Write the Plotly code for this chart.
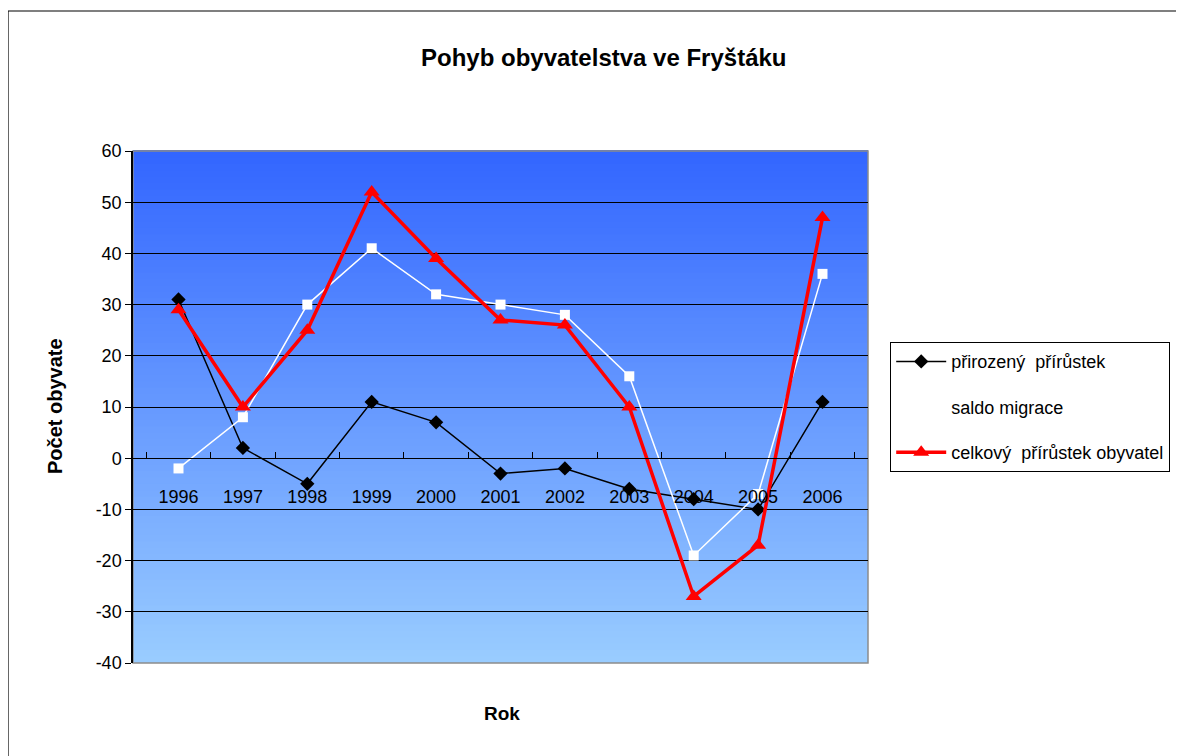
import plotly.graph_objects as go

# data
roky = ["1996", "1997", "1998", "1999", "2000", "2001", "2002", "2003", "2004", "2005", "2006"]
prirozeny = [31, 2, -5, 11, 7, -3, -2, -6, -8, -10, 11]
saldo = [-2, 8, 30, 41, 32, 30, 28, 16, -19, -7, 36]
celkovy = [29, 10, 25, 52, 39, 27, 26, 10, -27, -17, 47]
y_ticks = [-40, -30, -20, -10, 0, 10, 20, 30, 40, 50, 60]
y_tick_text = ["-40", "-30", "-20", "-10", "0", "10", "20", "30", "40", "50", "60"]

font_family = "Liberation Sans, Arial, sans-serif"

fig = go.Figure()

fig.add_trace(go.Scatter(
    x=roky, y=prirozeny, name="přirozený  přírůstek", legendgroup="a",
    mode="lines+markers",
    line=dict(color="black", width=1.5),
    marker=dict(symbol="diamond", size=11, color="black"),
))
fig.add_trace(go.Scatter(
    x=roky, y=saldo, name="saldo migrace", legendgroup="b",
    mode="lines+markers",
    line=dict(color="white", width=1.5),
    marker=dict(symbol="square", size=10, color="white"),
))
fig.add_trace(go.Scatter(
    x=roky, y=celkovy, name="celkový  přírůstek obyvatel", legendgroup="c",
    mode="lines+markers",
    line=dict(color="#ff0000", width=3.5),
    marker=dict(symbol="triangle-up", size=14, color="#ff0000"),
))

# gradient pozadí plochy grafu (nahoře tmavší modrá, dole světlejší)
n = 80
top = (51, 102, 255)
bottom = (153, 204, 255)
shapes = []
for i in range(n):
    t = i / (n - 1)
    c = tuple(round(bottom[k] + (top[k] - bottom[k]) * t) for k in range(3))
    shapes.append(dict(
        type="rect", xref="x domain", yref="y domain",
        x0=0, x1=1, y0=i / n, y1=(i + 1) / n + 0.002,
        fillcolor="rgb(%d,%d,%d)" % c, line=dict(width=0), layer="below",
    ))
# šedý rámeček plochy grafu
shapes.append(dict(type="rect", xref="x domain", yref="y domain", x0=0, x1=1, y0=0, y1=1,
                   line=dict(color="#8c8c8c", width=1.5), layer="below"))
# rámeček celého grafu
shapes.append(dict(type="rect", xref="paper", yref="paper",
                   x0=(8 - 133) / 735, x1=(1200 - 133) / 735,
                   y0=-0.3, y1=(663 - 11) / 512,
                   line=dict(color="black", width=1.2), layer="below"))

fig.update_layout(
    width=1176, height=748,
    margin=dict(l=125, r=316, t=143, b=93),
    paper_bgcolor="white",
    plot_bgcolor="rgba(0,0,0,0)",
    font=dict(family=font_family, size=16, color="black"),
    shapes=shapes,
    showlegend=True,
    legend=dict(
        x=(890 - 133) / 735, y=(663 - 342) / 512,
        xanchor="left", yanchor="top",
        bordercolor="black", borderwidth=1.2, bgcolor="white",
        font=dict(size=18, family=font_family),
        itemwidth=50, tracegroupgap=19,
    ),
    annotations=[
        dict(text="<b>Pohyb obyvatelstva ve Fryštáku</b>", xref="paper", yref="paper",
             x=(603 - 133) / 735, y=(663 - 57) / 512, showarrow=False,
             xanchor="center", yanchor="middle",
             font=dict(size=24, family=font_family)),
        dict(text="<b>Počet obyvate</b>", xref="paper", yref="paper",
             x=(55 - 133) / 735, y=(663 - 406) / 512, textangle=-90, showarrow=False,
             xanchor="center", yanchor="middle",
             font=dict(size=20, family=font_family)),
        dict(text="<b>Rok</b>", xref="paper", yref="paper",
             x=(502 - 133) / 735, y=(663 - 713) / 512, showarrow=False,
             xanchor="center", yanchor="middle",
             font=dict(size=19, family=font_family)),
    ],
)

fig.update_xaxes(
    type="category",
    anchor="free", position=0.4,
    showline=True, linecolor="black", linewidth=1,
    ticks="inside", ticklen=6, tickcolor="black", tickson="boundaries",
    ticklabelstandoff=22,
    showgrid=False, zeroline=False,
    tickfont=dict(size=18),
)
fig.update_yaxes(
    range=[-40, 60], tickvals=y_ticks, ticktext=y_tick_text,
    showline=True, linecolor="black", linewidth=1.5,
    ticks="outside", ticklen=6, tickcolor="black",
    showgrid=True, gridcolor="black", gridwidth=1,
    zeroline=False,
    tickfont=dict(size=18),
)

fig.write_html("out.html")
